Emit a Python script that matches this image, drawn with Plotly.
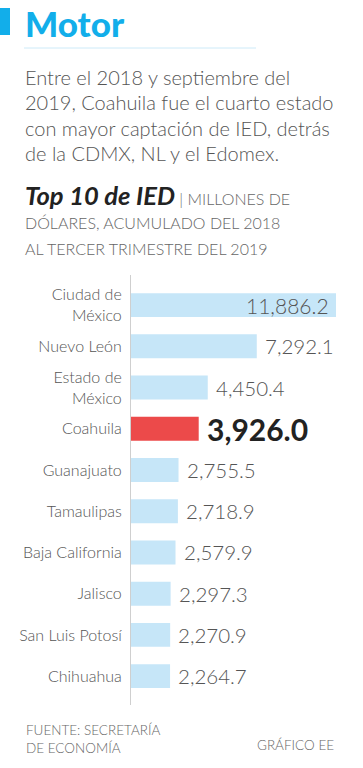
import plotly.graph_objects as go

states = ["Ciudad de<br>México", "Nuevo León", "Estado de<br>México", "Coahuila",
          "Guanajuato", "Tamaulipas", "Baja California", "Jalisco",
          "San Luis Potosí", "Chihuahua"]
values = [11886.2, 7292.1, 4450.4, 3926.0, 2755.5, 2718.9, 2579.9, 2297.3, 2270.9, 2264.7]
highlight = "Coahuila"

title = "Motor"
intro = ["Entre el 2018 y septiembre del",
         "2019, Coahuila fue el cuarto estado",
         "con mayor captación de IED, detrás",
         "de la CDMX, NL y el Edomex."]
sub_bold = "Top 10 de IED"
sub_lines = [" | MILLONES DE", "DÓLARES, ACUMULADO DEL 2018", "AL TERCER TRIMESTRE DEL 2019"]
source = "FUENTE: SECRETARÍA<br>DE ECONOMÍA"
credit = "GRÁFICO EE"

W, H = 363, 768
FONT = "Lato"
BLUE = "#12aeea"
BAR = "#c6e6f8"
RED = "#ec4a4a"
GRAY = "#555555"

def py(p):
    return 1 - p / H

def px(p):
    return p / W

ys = list(range(len(states)))
colors = [RED if s == highlight else BAR for s in states]

fig = go.Figure(go.Bar(
    x=values, y=ys, orientation="h", marker=dict(color=colors, line=dict(width=0)),
    width=0.58, hoverinfo="skip"))

x0 = 131
scale = (336 - x0) / values[0]
fig.update_layout(
    width=W, height=H, margin=dict(l=0, r=0, t=0, b=0),
    paper_bgcolor="white", plot_bgcolor="white", showlegend=False,
    font=dict(family=FONT, color=GRAY),
    xaxis=dict(domain=[px(x0), 1], range=[0, (W - x0) / scale], visible=False, fixedrange=True),
    yaxis=dict(domain=[py(705), py(275)], range=[9.7, -0.73], tickvals=ys, ticktext=states,
               showline=True, linecolor="#cfcfcf", linewidth=1, showgrid=False, zeroline=False,
               ticks="", ticklabelstandoff=5, tickfont=dict(size=16, color=GRAY, family=FONT, weight=300),
               fixedrange=True),
)

ann = []
# values
for i, (s, v) in enumerate(zip(states, values)):
    if i == 0:
        ann.append(dict(x=v, y=i, xref="x", yref="y", text=f"{v:,.1f}", showarrow=False,
                        xanchor="right", xshift=-5, font=dict(size=21, color=GRAY, weight=300)))
    elif s == highlight:
        ann.append(dict(x=v, y=i, xref="x", yref="y", text=f"<b>{v:,.1f}</b>", showarrow=False,
                        xanchor="left", xshift=6, font=dict(size=30, color="#222222", weight=900)))
    else:
        ann.append(dict(x=v, y=i, xref="x", yref="y", text=f"{v:,.1f}", showarrow=False,
                        xanchor="left", xshift=6, font=dict(size=20.5, color=GRAY, weight=300)))

# title
ann.append(dict(x=px(23), y=py(23), xref="paper", yref="paper", text=title, showarrow=False,
                xanchor="left", yanchor="middle", font=dict(size=35, color=BLUE, weight=900)))
# intro
for k, line in enumerate(intro):
    ann.append(dict(x=px(23), y=py(77 + 25.5 * k), xref="paper", yref="paper", text=line,
                    showarrow=False, xanchor="left", yanchor="middle",
                    font=dict(size=20, color=GRAY, weight=300)))
# subtitle
ann.append(dict(x=px(23), y=py(195), xref="paper", yref="paper",
                text=f"<b><i>{sub_bold}</i></b><span style='font-size:16px;color:#666'>{sub_lines[0]}</span>",
                showarrow=False, xanchor="left", yanchor="middle",
                font=dict(size=25.5, color="#222222", weight=300)))
for k, line in enumerate(sub_lines[1:]):
    ann.append(dict(x=px(23), y=py(222 + 26.5 * k), xref="paper", yref="paper", text=line,
                    showarrow=False, xanchor="left", yanchor="middle",
                    font=dict(size=16, color="#666666", weight=300)))
# footer
ann.append(dict(x=px(24), y=py(739), xref="paper", yref="paper", text=source, showarrow=False,
                xanchor="left", yanchor="middle", align="left",
                font=dict(size=13.5, color="#666666", weight=300)))
ann.append(dict(x=px(336), y=py(745), xref="paper", yref="paper", text=credit, showarrow=False,
                xanchor="right", yanchor="middle", font=dict(size=13.5, color="#666666", weight=300)))

fig.update_layout(annotations=ann)

fig.add_shape(type="rect", xref="paper", yref="paper", x0=0, x1=px(10), y0=py(35), y1=py(8),
              fillcolor=BLUE, line=dict(width=0))
fig.add_shape(type="line", xref="paper", yref="paper", x0=px(24), x1=px(256), y0=py(48), y1=py(48),
              line=dict(color="#cdeaf8", width=1))

fig.write_html("out.html", config={"displayModeBar": False},
               post_script="document.body.style.margin='0';")
